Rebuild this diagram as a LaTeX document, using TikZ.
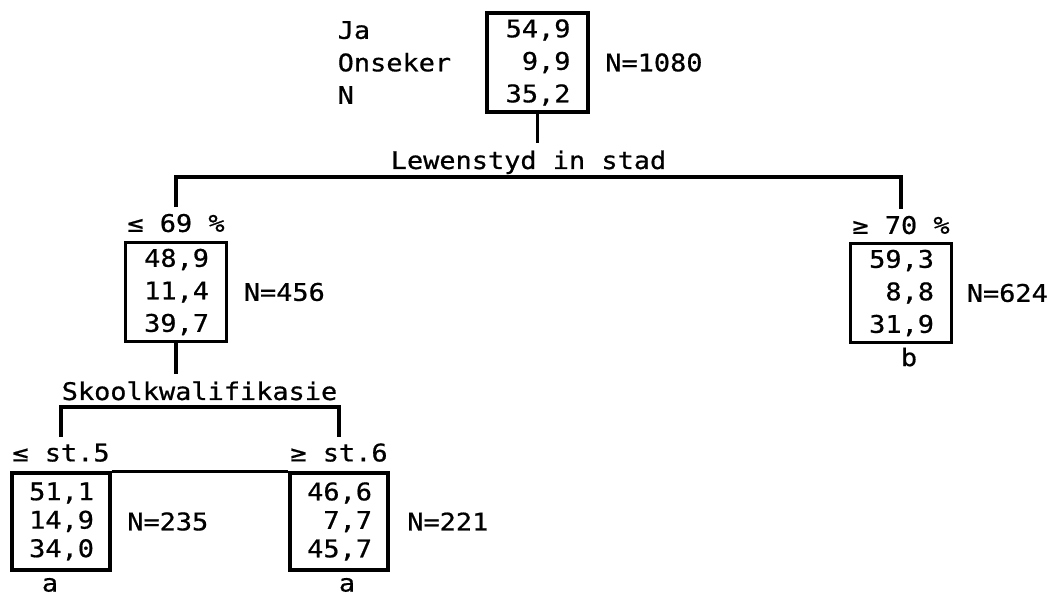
\documentclass[tikz,border=0pt]{standalone}
\usepackage{fontspec}
\newfontfamily\typefont[FakeStretch=1.11, FakeBold=0.7]{DejaVu Sans Mono}
\usetikzlibrary{positioning}

\begin{document}
\begin{tikzpicture}[x=1cm, y=1cm,
  mono/.style={font=\typefont\fontsize{6.9pt}{9.25pt}\selectfont},
  cell/.style={mono, draw, line width=0.9pt, align=right, text width=0.66cm,
    inner xsep=0.175cm, inner ysep=0pt, minimum height=0.99cm},
  lowcell/.style={cell, font=\typefont\fontsize{6.9pt}{8.1pt}\selectfont,
    inner xsep=0.16cm, minimum height=0.97cm},
  tag/.style={mono, inner xsep=0pt, inner ysep=0.06cm},
  link/.style={line width=0.9pt}]

  \useasboundingbox (0,0) rectangle (10.57,-5.96);

  % 1. ROOT (all respondents)
  \node[cell] (root) at (5.375, -0.625) {54,9\\9,9\\35,2};
  \node[mono, align=left, text width=1.16cm, inner sep=0pt, left=0.31cm of root] (cats) {Ja\\Onseker\\N};
  \node[mono, inner sep=0pt, right=0.15cm of root] (nroot) {N=1080};

  % 2. FIRST SPLIT
  \node[tag, inner sep=0.07cm, anchor=base] (split1) at (5.285, -1.69) {Lewenstyd in stad};
  \coordinate (bar1) at ([yshift=-0.08cm]split1.base);

  \node[cell] (low) at (1.76, -2.92) {48,9\\11,4\\39,7};
  \node[tag, anchor=base] (lowlab) at ([yshift=0.09cm]low.north) {≤ 69 \%};
  \node[mono, inner sep=0pt, right=0.15cm of low] (nlow) {N=456};

  \node[cell] (high) at (9.01, -2.93) {59,3\\8,8\\31,9};
  \node[tag, anchor=base] (highlab) at ([yshift=0.08cm]high.north) {≥ 70 \%};
  \node[mono, inner sep=0pt, right=0.13cm of high] (nhigh) {N=624};
  \node[mono, inner sep=0pt, anchor=base] (tagb) at ([xshift=0.08cm, yshift=-0.22cm]high.south) {b};

  % 3. SECOND SPLIT
  \node[tag, inner sep=0.07cm, anchor=base] (split2) at (1.995, -4.00) {Skoolkwalifikasie};
  \coordinate (bar2) at ([yshift=-0.07cm]split2.base);

  \node[lowcell] (lowa) at (0.61, -5.215) {51,1\\14,9\\34,0};
  \node[tag, anchor=base] (lowalab) at ([yshift=0.10cm]lowa.north) {≤ st.5};
  \node[mono, inner sep=0pt, right=0.15cm of lowa] (nlowa) {N=235};
  \node[mono, inner sep=0pt, anchor=base] (taga) at ([xshift=-0.11cm, yshift=-0.20cm]lowa.south) {a};

  \node[lowcell] (lowb) at (3.39, -5.215) {46,6\\7,7\\45,7};
  \node[tag, anchor=base] (lowblab) at ([yshift=0.10cm]lowb.north) {≥ st.6};
  \node[mono, inner sep=0pt, right=0.17cm of lowb] (nlowb) {N=221};
  \node[mono, inner sep=0pt, anchor=base] (tagab) at ([xshift=0.08cm, yshift=-0.20cm]lowb.south) {a};

  % 4. TREE LINES
  \draw[link] (root.south) -- (root.south |- split1.north);
  \draw[link] (lowlab.north) |- (bar1) -| (highlab.north);
  \draw[link] (low.south) -- (low.south |- split2.north);
  \draw[link] (lowalab.north) |- (bar2) -| (lowblab.north);
  \draw[link] (lowa.north east) -- (lowb.north west);

\end{tikzpicture}
\end{document}
